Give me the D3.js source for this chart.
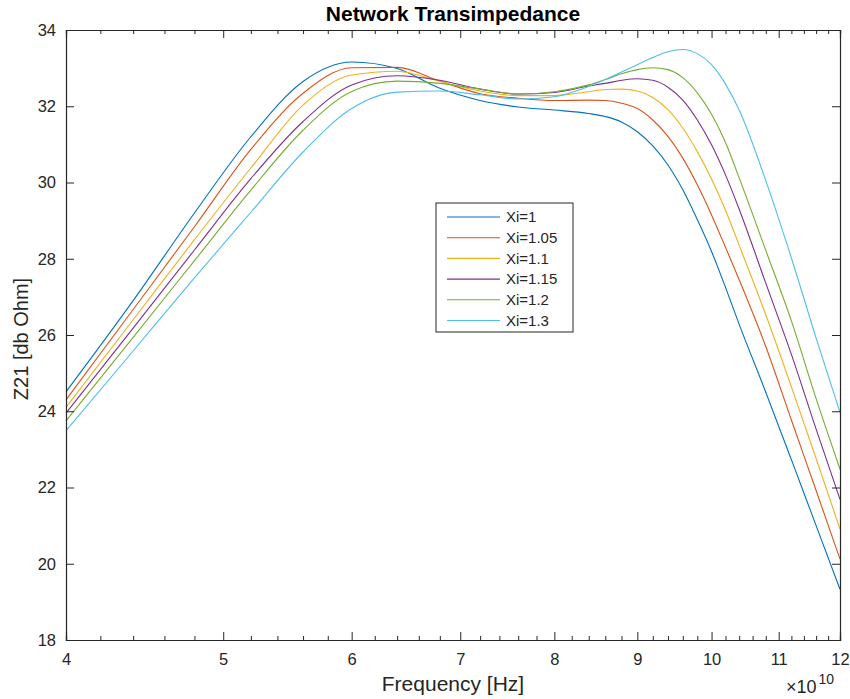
<!DOCTYPE html>
<html>
<head>
<meta charset="utf-8">
<script src="https://cdn.jsdelivr.net/npm/d3@7"></script>
<style>
  body { margin: 0; background: #fff; }
  text { font-family: "Liberation Sans", Arial, Helvetica, sans-serif; fill: #262626; }
</style>
</head>
<body>
<div id="vis"></div>
<script>

// frequency points, in units of 1e10 Hz
const freq = [4.0, 4.4, 4.8, 5.2, 5.6, 6.0, 6.4, 6.8, 7.2, 7.6, 8.0, 8.4, 8.6, 8.8, 9.0, 9.2, 9.4, 9.6, 9.8, 10.0, 10.2, 10.4, 10.8, 11.2, 11.6, 12.0];

// Z21 values (db Ohm)
const xi100 = [24.51, 26.90, 29.20, 31.20, 32.65, 33.16, 32.99, 32.47, 32.15, 31.98, 31.90, 31.81, 31.73, 31.59, 31.33, 30.96, 30.46, 29.81, 29.03, 28.19, 27.25, 26.28, 24.50, 22.73, 21.00, 19.33];
const xi105 = [24.30, 26.67, 28.84, 30.87, 32.34, 33.01, 33.02, 32.66, 32.33, 32.21, 32.15, 32.16, 32.15, 32.08, 31.94, 31.64, 31.21, 30.64, 29.94, 29.15, 28.30, 27.45, 25.70, 23.77, 21.92, 20.12];
const xi110 = [24.10, 26.40, 28.50, 30.38, 32.03, 32.82, 32.92, 32.65, 32.40, 32.28, 32.28, 32.38, 32.44, 32.45, 32.40, 32.23, 31.91, 31.43, 30.81, 30.09, 29.27, 28.35, 26.53, 24.64, 22.76, 20.91];
const xi115 = [23.95, 26.18, 28.23, 30.10, 31.60, 32.56, 32.80, 32.68, 32.45, 32.32, 32.36, 32.53, 32.60, 32.68, 32.72, 32.68, 32.50, 32.16, 31.64, 30.99, 30.20, 29.30, 27.36, 25.49, 23.53, 21.69];
const xi120 = [23.75, 25.94, 27.95, 29.80, 31.37, 32.39, 32.66, 32.60, 32.45, 32.32, 32.38, 32.56, 32.70, 32.85, 32.96, 33.01, 32.96, 32.75, 32.35, 31.79, 31.05, 30.12, 28.22, 26.37, 24.33, 22.48];
const xi130 = [23.49, 25.58, 27.50, 29.22, 30.80, 31.94, 32.37, 32.40, 32.30, 32.19, 32.25, 32.52, 32.70, 32.90, 33.09, 33.28, 33.43, 33.49, 33.38, 33.09, 32.58, 31.90, 30.05, 28.02, 25.92, 23.97];

const seriesNames = ["Xi=1", "Xi=1.05", "Xi=1.1", "Xi=1.15", "Xi=1.2", "Xi=1.3"];
const seriesValues = [xi100, xi105, xi110, xi115, xi120, xi130];
const colors = ["#0072BD", "#D95319", "#EDB120", "#7E2F8E", "#77AC30", "#4DBEEE"];

const xMajor = [4, 5, 6, 7, 8, 9, 10, 11, 12];
const xMinor = [4.2, 4.4, 4.6, 4.8, 5.2, 5.4, 5.6, 5.8, 6.2, 6.4, 6.6, 6.8, 7.2, 7.4, 7.6, 7.8,
                8.2, 8.4, 8.6, 8.8, 9.2, 9.4, 9.6, 9.8, 10.2, 10.4, 10.6, 10.8, 11.2, 11.4, 11.6, 11.8];
const yTicks = [18, 20, 22, 24, 26, 28, 30, 32, 34];

const W = 850, H = 699;
const m = { left: 66, right: 840, top: 30, bottom: 640 };
const axisColor = "#262626";

const svg = d3.select("#vis").append("svg")
    .attr("width", W)
    .attr("height", H);

const x = d3.scaleLog().domain([4e10, 12e10]).range([m.left, m.right]);
const y = d3.scaleLinear().domain([18, 34]).range([m.bottom, m.top]);

// data lines
const line = d3.line()
    .x(d => x(d[0] * 1e10))
    .y(d => y(d[1]))
    .curve(d3.curveMonotoneX);

svg.append("g")
    .selectAll("path")
    .data(seriesValues)
    .join("path")
    .attr("fill", "none")
    .attr("stroke", (d, i) => colors[i])
    .attr("stroke-width", 1.1)
    .attr("d", vals => line(freq.map((f, j) => [f, vals[j]])));

// axes
function styleAxis(g) {
    g.select(".domain").attr("stroke", axisColor);
    g.selectAll(".tick line").attr("stroke", axisColor);
    g.selectAll(".tick text")
        .style("font-size", "16.5px")
        .attr("fill", axisColor);
}

const fmtX = d => d3.format("d")(d / 1e10);

svg.append("g")
    .attr("transform", `translate(0,${m.bottom})`)
    .call(d3.axisBottom(x).tickValues(xMinor.map(v => v * 1e10)).tickSize(-4).tickFormat(""))
    .call(styleAxis);
svg.append("g")
    .attr("transform", `translate(0,${m.bottom})`)
    .call(d3.axisBottom(x).tickValues(xMajor.map(v => v * 1e10)).tickSize(-8).tickPadding(13).tickFormat(fmtX))
    .call(styleAxis);

svg.append("g")
    .attr("transform", `translate(0,${m.top})`)
    .call(d3.axisTop(x).tickValues(xMinor.map(v => v * 1e10)).tickSize(-4).tickFormat(""))
    .call(styleAxis);
svg.append("g")
    .attr("transform", `translate(0,${m.top})`)
    .call(d3.axisTop(x).tickValues(xMajor.map(v => v * 1e10)).tickSize(-8).tickFormat(""))
    .call(styleAxis);

svg.append("g")
    .attr("transform", `translate(${m.left},0)`)
    .call(d3.axisLeft(y).tickValues(yTicks).tickSize(-8).tickPadding(10).tickFormat(d3.format("d")))
    .call(styleAxis);
svg.append("g")
    .attr("transform", `translate(${m.right},0)`)
    .call(d3.axisRight(y).tickValues(yTicks).tickSize(-8).tickFormat(""))
    .call(styleAxis);

svg.selectAll(".domain").attr("stroke-width", 1.2);

// exponent label
const expo = svg.append("text")
    .attr("x", 786)
    .attr("y", 693)
    .style("font-size", "18px");
expo.append("tspan").text("\u00d710");
expo.append("tspan").attr("dy", -9).attr("dx", 2).style("font-size", "14px").text("10");

// title and axis labels
svg.append("text")
    .attr("x", (m.left + m.right) / 2)
    .attr("y", 21)
    .attr("text-anchor", "middle")
    .style("font-size", "21px")
    .style("font-weight", "bold")
    .style("fill", "#000")
    .text("Network Transimpedance");

svg.append("text")
    .attr("x", (m.left + m.right) / 2)
    .attr("y", 691)
    .attr("text-anchor", "middle")
    .style("font-size", "21px")
    .text("Frequency [Hz]");

svg.append("text")
    .attr("transform", `translate(28,${(m.top + m.bottom) / 2 + 4}) rotate(-90)`)
    .attr("text-anchor", "middle")
    .style("font-size", "20px")
    .text("Z21 [db Ohm]");

// legend
const legend = svg.append("g").attr("transform", "translate(436,203)");
legend.append("rect")
    .attr("width", 137)
    .attr("height", 129)
    .attr("fill", "#fff")
    .attr("stroke", axisColor)
    .attr("stroke-width", 1);

const rows = legend.selectAll("g.row")
    .data(seriesNames)
    .join("g")
    .attr("class", "row")
    .attr("transform", (d, i) => `translate(0,${14 + i * 20.7})`);

rows.append("line")
    .attr("x1", 11).attr("x2", 64)
    .attr("stroke", (d, i) => colors[i])
    .attr("stroke-width", 1.1);

rows.append("text")
    .attr("x", 70)
    .attr("dy", "0.35em")
    .style("font-size", "15px")
    .text(d => d);

</script>
</body>
</html>
